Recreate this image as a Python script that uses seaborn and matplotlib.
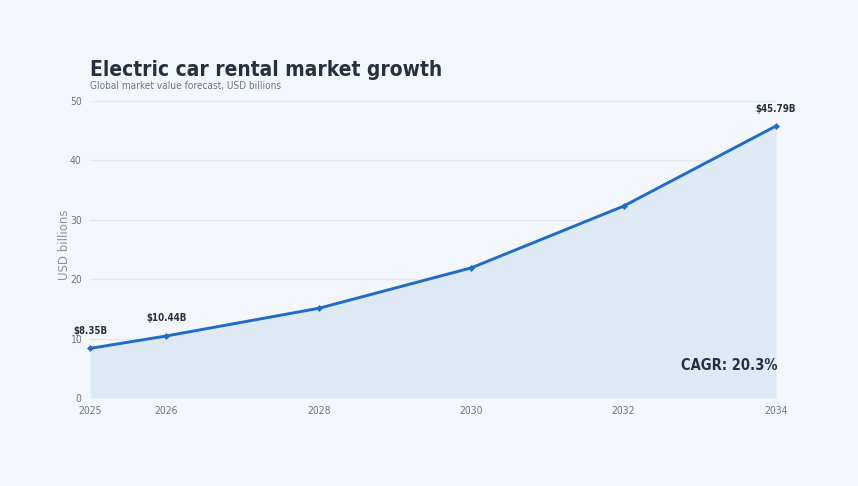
import pandas as pd
import matplotlib
matplotlib.use("Agg")
import matplotlib.pyplot as plt
import seaborn as sns

# Market value forecast (USD billions)
years = [2025, 2026, 2028, 2030, 2032, 2034]
values = [8.35, 10.44, 15.1, 21.9, 32.3, 45.79]
labelled_years = [2025, 2026, 2034]
y_ticks = [0, 10, 20, 30, 40, 50]

df = pd.DataFrame({'Year': years, 'Value': values})

bg = '#f3f7fc'
line_color = '#1f6bc9'
fill_color = '#dfe9f4'
dark = '#27313d'
grey = '#6b7785'

sns.set_theme(style='white')
plt.rcParams['font.family'] = ['DejaVu Sans']

fig = plt.figure(figsize=(8.58, 4.86), dpi=100, facecolor=bg)
ax = fig.add_axes([90 / 858, 1 - 398 / 486, (776 - 90) / 858, (398 - 101) / 486])
ax.set_facecolor(bg)

# grid first, then the area over it
for t in y_ticks[1:]:
    ax.axhline(t, color='#e3e8ee', lw=1, zorder=0)
ax.fill_between(df['Year'], df['Value'], 0, color=fill_color, zorder=1, lw=0)
sns.lineplot(data=df, x='Year', y='Value', ax=ax, color=line_color, lw=2.1,
             marker='D', markersize=3.5, markeredgewidth=0, zorder=3, clip_on=False)

for yr, v in zip(years, values):
    if yr in labelled_years:
        ax.annotate(f'${v:.2f}B', (yr, v), xytext=(0, 9), textcoords='offset points',
                    ha='center', va='bottom', fontsize=7, fontweight='bold',
                    color=dark, stretch='condensed')

ax.text(1.002, 0.11, 'CAGR: 20.3%', transform=ax.transAxes, ha='right', va='center',
        fontsize=10.5, fontweight='bold', color=dark, stretch='condensed')

ax.set_xlim(2025, 2034)
ax.set_ylim(0, 50)
ax.set_xticks(years)
ax.set_yticks(y_ticks)
ax.tick_params(axis='both', length=0, labelsize=7.5, labelcolor=grey, pad=6)
for lab in ax.get_xticklabels() + ax.get_yticklabels():
    lab.set_fontstretch('condensed')
ax.set_xlabel('')
ax.set_ylabel('USD billions', fontsize=8.5, color='#8a94a0')
ax.yaxis.set_label_coords(-0.027, 0.515)
sns.despine(ax=ax, left=True, bottom=True)

fig.text(90 / 858, 1 - 76 / 486, 'Electric car rental market growth', fontsize=15,
         fontweight='bold', color=dark, stretch='condensed')
fig.text(90 / 858, 1 - 89 / 486, 'Global market value forecast, USD billions',
         fontsize=7.2, color=grey, stretch='condensed')

fig.savefig('out.png', dpi=100, facecolor=bg)
